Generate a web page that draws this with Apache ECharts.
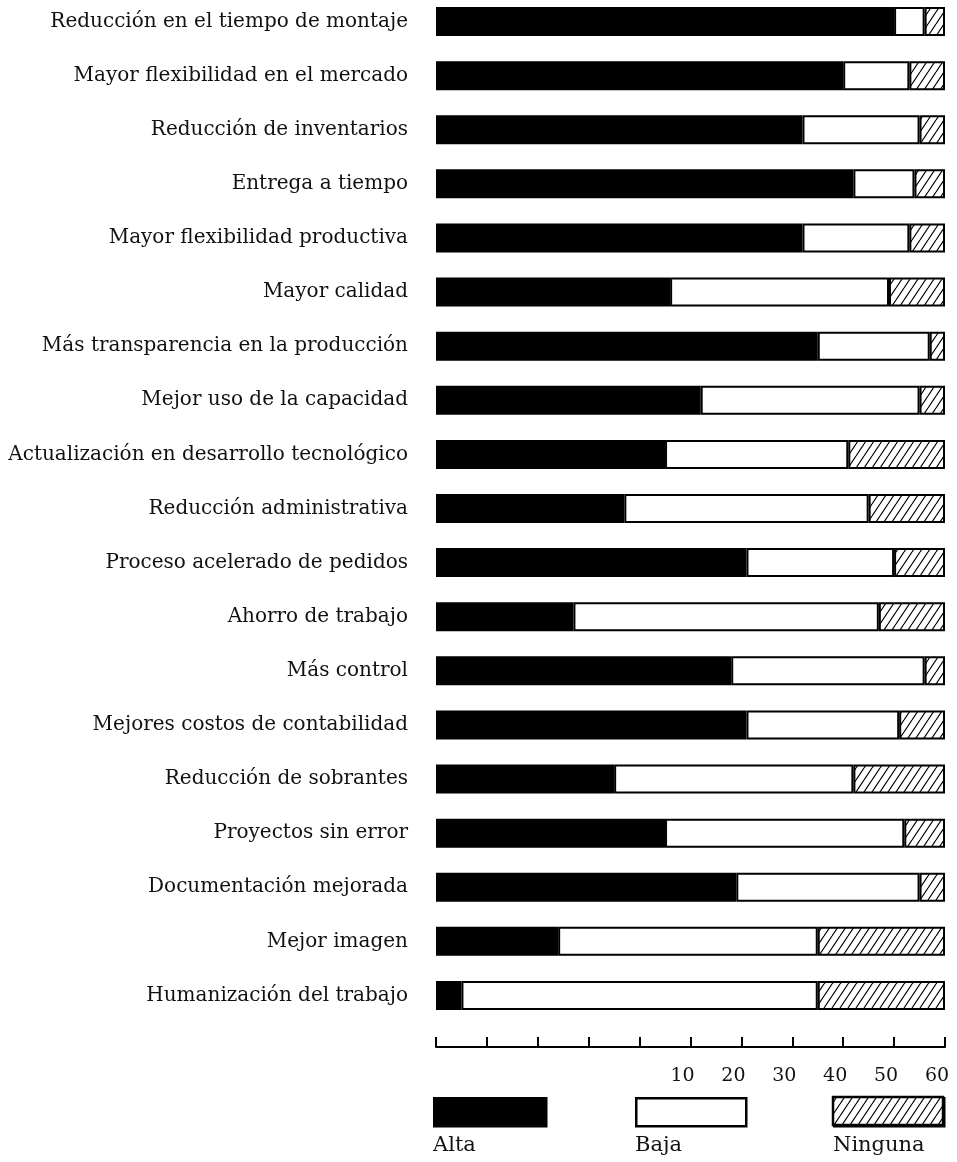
<!DOCTYPE html>
<html>
<head>
<meta charset="utf-8">
<script src="https://cdn.jsdelivr.net/npm/echarts@6/dist/echarts.min.js"></script>
<style>
html,body{margin:0;padding:0;background:#fff;}
#chart{width:957px;height:1162px;}
</style>
</head>
<body>
<div id="chart"></div>
<script>
const categories = [
  'Reducción en el tiempo de montaje',
  'Mayor flexibilidad en el mercado',
  'Reducción de inventarios',
  'Entrega a tiempo',
  'Mayor flexibilidad productiva',
  'Mayor calidad',
  'Más transparencia en la producción',
  'Mejor uso de la capacidad',
  'Actualización en desarrollo tecnológico',
  'Reducción administrativa',
  'Proceso acelerado de pedidos',
  'Ahorro de trabajo',
  'Más control',
  'Mejores costos de contabilidad',
  'Reducción de sobrantes',
  'Proyectos sin error',
  'Documentación mejorada',
  'Mejor imagen',
  'Humanización del trabajo'
];
const alta    = [90, 80, 72, 82, 72, 46, 75, 52, 45, 37, 61, 27, 58, 61, 35, 45, 59, 24, 5];
const baja    = [6, 13, 23, 12, 21, 43, 22, 43, 36, 48, 29, 60, 38, 30, 47, 47, 36, 51, 70];
const ninguna = [4, 7, 5, 6, 7, 11, 3, 5, 19, 15, 10, 13, 4, 9, 18, 8, 5, 25, 25];
const seriesNames = ['Alta', 'Baja', 'Ninguna'];
const tickLabels = ['', '', '', '', '', '10', '20', '30', '40', '50', '60'];

function makeHatch() {
  const w = 8, h = 12;
  const c = document.createElement('canvas');
  c.width = w; c.height = h;
  const ctx = c.getContext('2d');
  ctx.fillStyle = '#fff';
  ctx.fillRect(0, 0, w, h);
  ctx.strokeStyle = '#000';
  ctx.lineWidth = 1.2;
  for (const dx of [-w, 0, w]) {
    ctx.beginPath();
    ctx.moveTo(dx, h);
    ctx.lineTo(dx + w, 0);
    ctx.stroke();
  }
  return c;
}
const hatch = { image: makeHatch(), repeat: 'repeat' };

const serif = 'DejaVu Serif';
const chart = echarts.init(document.getElementById('chart'), null, { renderer: 'canvas' });

const bandTop = -5.5, bandBottom = 1022.5;
const fills = ['#000', '#fff', hatch];
const dataSets = [alta, baja, ninguna];

const series = seriesNames.map((name, i) => ({
  name: name,
  type: 'bar',
  stack: 'total',
  barWidth: 29,
  data: dataSets[i],
  itemStyle: { color: fills[i], borderColor: '#000', borderWidth: 2 },
  emphasis: { disabled: true },
  silent: true
}));

const legendLefts = [433, 635, 833];
const legendWidths = [112, 110, 110];
const legendTop = 1097, legendH = 28;
const legends = seriesNames.map((name, i) => ({
  data: [name],
  left: legendLefts[i],
  top: legendTop,
  padding: 0,
  itemWidth: legendWidths[i],
  itemHeight: legendH,
  icon: 'rect',
  selectedMode: false,
  formatter: () => '',
  itemStyle: { borderColor: '#000', borderWidth: 2.5 }
}));

const graphics = seriesNames.map((name, i) => ({
  type: 'text',
  left: legendLefts[i],
  top: 1135,
  style: { text: name, font: '21px "DejaVu Serif"', fill: '#111' }
}));
// crisp hatch swatch for the "Ninguna" legend key
graphics.push({
  type: 'rect',
  z: 100,
  shape: { x: legendLefts[2], y: legendTop, width: legendWidths[2], height: legendH },
  style: { fill: hatch, stroke: '#000', lineWidth: 2.5 }
});

chart.setOption({
  animation: false,
  backgroundColor: '#fff',
  grid: {
    left: 436, right: 12, top: bandTop, bottom: 1162 - bandBottom,
    containLabel: false, outerBoundsMode: 'none'
  },
  xAxis: {
    type: 'value',
    min: 0, max: 100, interval: 10,
    offset: 24.5,
    axisLine: { show: true, lineStyle: { color: '#000', width: 2 } },
    axisTick: { show: true, inside: true, length: 10, lineStyle: { color: '#000', width: 2 } },
    splitLine: { show: false },
    axisLabel: {
      margin: 20,
      padding: [0, 16, 0, 0],
      fontFamily: serif, fontSize: 19, color: '#111',
      formatter: (v) => tickLabels[Math.round(v / 10)]
    }
  },
  yAxis: {
    type: 'category',
    inverse: true,
    data: categories,
    axisLine: { show: false },
    axisTick: { show: false },
    axisLabel: { margin: 28, fontFamily: serif, fontSize: 20, color: '#111' }
  },
  legend: legends,
  graphic: graphics,
  series: series
});
</script>
</body>
</html>
